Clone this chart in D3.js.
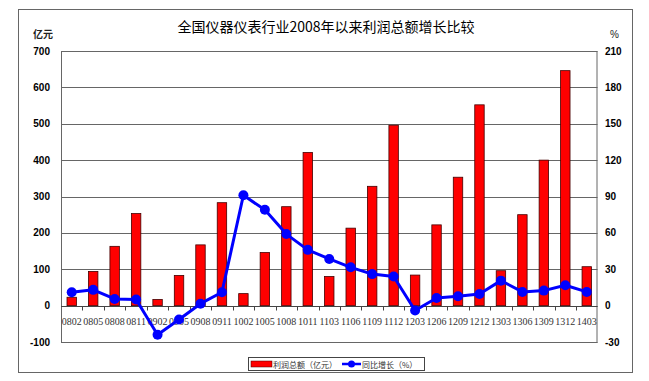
<!DOCTYPE html>
<html><head><meta charset="utf-8">
<script src="https://cdn.jsdelivr.net/npm/d3@7"></script>
<style>body{margin:0;background:#fff}svg{display:block}</style>
</head><body>
<svg id="c" width="649" height="381"></svg>
<script>
const categories = ["0802","0805","0808","0811","0902","0905","0908","0911","1002","1005","1008","1011","1103","1106","1109","1112","1203","1206","1209","1212","1303","1306","1309","1312","1403"];
const profit = [23,94,163,253,17,83,167,283,33,146,272,421,80,213,328,496,84,222,353,552,96,250,400,646,107];
const growth = [11,13,5.5,5,-24,-11.5,1.6,11,91,79,59,46,38.5,31.6,26,24,-4,6.3,7.7,9.6,20.6,11.3,12.4,16.8,11.3];
const leftTicks = [-100,0,100,200,300,400,500,600,700];
const rightTicks = [-30,0,30,60,90,120,150,180,210];
const title = "全国仪器仪表行业2008年以来利润总额增长比较";

const svg = d3.select("#c");
const L = 61, R = 597.5, T = 51, B = 342;

svg.append("rect").attr("x",18.5).attr("y",9.5).attr("width",614).attr("height",363)
  .attr("fill","none").attr("stroke","#666").attr("stroke-width",1);

const x = d3.scaleBand().domain(categories).range([L,R]).padding(0);
const yL = d3.scaleLinear().domain([-100,700]).range([B,T]);
const yR = d3.scaleLinear().domain([-30,210]).range([B,T]);

// gridlines
svg.append("g").selectAll("line").data(leftTicks).join("line")
  .attr("x1",L).attr("x2",R)
  .attr("y1",d=>Math.round(yL(d))+0.5).attr("y2",d=>Math.round(yL(d))+0.5)
  .attr("stroke","#666").attr("stroke-width",1);
// plot border
svg.append("rect").attr("x",L+0.5).attr("y",Math.round(T)+0.5).attr("width",R-L-1).attr("height",B-T)
  .attr("fill","none").attr("stroke","#666");

// bars
const bw = x.bandwidth()*0.44;
svg.append("g").selectAll("rect").data(categories).join("rect")
  .attr("x",(d,i)=>x(d)+x.bandwidth()/2-bw/2)
  .attr("width",bw)
  .attr("y",(d,i)=>yL(profit[i]))
  .attr("height",(d,i)=>yL(0)-yL(profit[i]))
  .attr("fill","#ff0000").attr("stroke","#400").attr("stroke-width",0.8);

// zero axis with ticks
const y0 = Math.round(yL(0))+0.5;
svg.append("line").attr("x1",L).attr("x2",R).attr("y1",y0).attr("y2",y0).attr("stroke","#444");
svg.append("g").selectAll("line").data(categories.slice(1)).join("line")
  .attr("x1",d=>Math.round(x(d))+0.5).attr("x2",d=>Math.round(x(d))+0.5)
  .attr("y1",y0).attr("y2",y0+4).attr("stroke","#444");

// category labels
svg.append("g").selectAll("text").data(categories).join("text")
  .attr("x",d=>x(d)+x.bandwidth()/2).attr("y",y0+18)
  .attr("text-anchor","middle").attr("font-family","Liberation Serif, serif")
  .attr("font-size",10).attr("fill","#333").text(d=>d);

// line
const line = d3.line().x((d,i)=>x(categories[i])+x.bandwidth()/2).y(d=>yR(d));
svg.append("path").datum(growth).attr("d",line).attr("fill","none")
  .attr("stroke","#0000ff").attr("stroke-width",3).attr("stroke-linejoin","round");
svg.append("g").selectAll("circle").data(growth).join("circle")
  .attr("cx",(d,i)=>x(categories[i])+x.bandwidth()/2).attr("cy",d=>yR(d)).attr("r",5)
  .attr("fill","#0000ff");

// axis labels
svg.append("g").selectAll("text").data(leftTicks).join("text")
  .attr("x",50).attr("y",d=>yL(d)+3.5).attr("text-anchor","end")
  .attr("font-family","Liberation Sans, Arial, sans-serif").attr("font-weight","bold")
  .attr("font-size",10).attr("fill","#000").text(d=>d);
svg.append("g").selectAll("text").data(rightTicks).join("text")
  .attr("x",605).attr("y",d=>yR(d)+3.5).attr("text-anchor","start")
  .attr("font-family","Liberation Sans, Arial, sans-serif").attr("font-weight","bold")
  .attr("font-size",10).attr("fill","#000").text(d=>d);

svg.append("text").attr("x",33).attr("y",38).attr("font-family","Noto Sans CJK SC")
  .attr("font-size",10).attr("font-weight","bold").attr("fill","#222").text("亿元");
svg.append("text").attr("x",610).attr("y",38).attr("font-family","Liberation Sans, Arial")
  .attr("font-size",10).attr("fill","#222").text("%");

svg.append("text").attr("x",326).attr("y",32).attr("text-anchor","middle")
  .attr("font-family","Noto Sans CJK SC").attr("font-size",14).attr("fill","#000").text(title);

// legend
const lg = svg.append("g");
lg.append("rect").attr("x",248.5).attr("y",357.5).attr("width",176).attr("height",13)
  .attr("fill","#fff").attr("stroke","#444");
lg.append("rect").attr("x",251).attr("y",361).attr("width",21).attr("height",6).attr("fill","#ff0000").attr("stroke","#400").attr("stroke-width",0.5);
lg.append("text").attr("x",273).attr("y",367.5).attr("font-family","Noto Sans CJK SC")
  .attr("font-size",8).attr("fill","#333").text("利润总额（亿元）");
lg.append("line").attr("x1",342).attr("x2",361).attr("y1",364).attr("y2",364).attr("stroke","#0000ff").attr("stroke-width",2.5);
lg.append("circle").attr("cx",351.5).attr("cy",364).attr("r",3.5).attr("fill","#0000ff");
lg.append("text").attr("x",362).attr("y",367.5).attr("font-family","Noto Sans CJK SC")
  .attr("font-size",8).attr("fill","#333").text("同比增长（%）");
</script>
</body></html>
